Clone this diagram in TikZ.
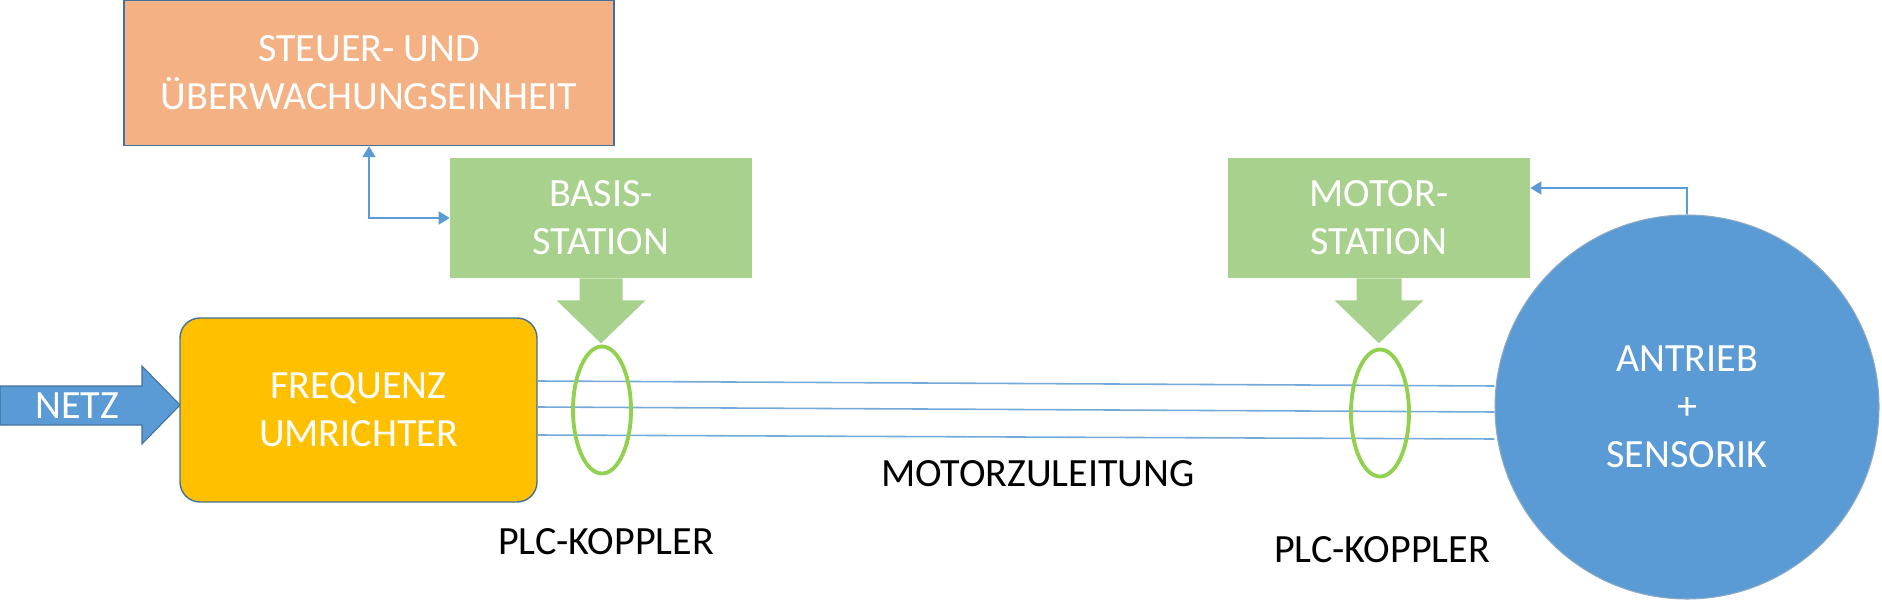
\documentclass[tikz,border=0pt]{standalone}
\usepackage{fontspec}
\setmainfont{Carlito}
\usetikzlibrary{shapes.geometric,arrows.meta,positioning,calc}
\definecolor{ctrlorange}  {HTML}{F4B183}
\definecolor{fuyellow}    {HTML}{FFC000}
\definecolor{stationgreen}{HTML}{A9D18E}
\definecolor{couplergreen}{HTML}{92D050}
\definecolor{driveblue}   {HTML}{5B9BD5}
\definecolor{edgeblue}    {HTML}{41719C}
\newcommand{\boxfont}{\fontsize{22.8}{27.4}\selectfont}

\begin{document}
\begin{tikzpicture}[
  font=\boxfont, >={Triangle[width=0.26cm,length=0.22cm]},
  box/.style    ={rectangle, align=center, text=white, inner sep=0pt},
  ctrl/.style   ={box, fill=ctrlorange, draw=edgeblue, line width=0.8pt,
                  minimum width=9.8cm, minimum height=2.9cm},
  station/.style={box, fill=stationgreen,
                  minimum width=6.04cm, minimum height=2.4cm},
  fu/.style     ={box, fill=fuyellow, draw=edgeblue, line width=0.8pt,
                  rounded corners=0.4cm, minimum width=7.14cm, minimum height=3.68cm},
  coupler/.style={ellipse, draw=couplergreen, line width=2.2pt, inner sep=0pt,
                  minimum width=1.16cm, minimum height=2.54cm},
  drive/.style  ={circle, fill=driveblue, draw=edgeblue!60, line width=0.6pt,
                  minimum size=7.68cm, align=center, text=white, inner sep=0pt},
  conn/.style={draw=driveblue, line width=1.1pt},
  wire/.style={draw=driveblue!85, line width=0.9pt},
]
\useasboundingbox (0,0) rectangle (37.64,-12.10);

%-- control unit and base station
\node[ctrl] (SU) at (7.38,-1.46) {STEUER- UND\\ÜBERWACHUNGSEINHEIT};
\node[station] (BS) at (12.02,-4.36) {BASIS-\\STATION};
\fill[stationgreen] ([xshift=-0.43cm]BS.south) -- ++(0,-0.44) -- ++(-0.46,0)
  -- ++(0.89,-0.86) -- ++(0.89,0.86) -- ++(-0.46,0) -- ++(0,0.44) -- cycle;
\draw[conn, <->] (SU.south) |- (BS.west);

%-- mains and converter
\filldraw[fill=driveblue, draw=edgeblue, line width=0.6pt]
  (0,-7.72) -- (2.84,-7.72) -- (2.84,-7.32) -- (3.60,-8.10)
  -- (2.84,-8.88) -- (2.84,-8.50) -- (0,-8.50) -- cycle;
\node[text=white] (netz) at (1.54,-8.12) {NETZ};
\node[fu] (FU) at (7.17,-8.20) {FREQUENZ\\UMRICHTER};

%-- drive
\node[drive] (M) at (33.74,-8.14) {ANTRIEB\\+\\SENSORIK};

%-- motor cable
\draw[wire] ([yshift=0.58cm]FU.east) -- ([yshift=0.42cm]M.west);
\draw[wire] ([yshift=0.06cm]FU.east) -- ([yshift=-0.10cm]M.west);
\draw[wire] ([yshift=-0.50cm]FU.east) -- ([yshift=-0.64cm]M.west);
\node (cable) at (20.76,-9.48) {MOTORZULEITUNG};

%-- couplers
\node[coupler] (K1) at (12.04,-8.20) {};
\node[coupler] (K2) at (27.60,-8.26) {};
\node (K1lbl) at (12.12,-10.84) {PLC-KOPPLER};
\node (K2lbl) at (27.64,-11.00) {PLC-KOPPLER};

%-- motor station
\node[station] (MS) at (27.58,-4.36) {MOTOR-\\STATION};
\fill[stationgreen] ([xshift=-0.45cm]MS.south) -- ++(0,-0.44) -- ++(-0.44,0)
  -- ++(0.89,-0.86) -- ++(0.89,0.86) -- ++(-0.44,0) -- ++(0,0.44) -- cycle;
\draw[conn, ->] (M.north) |- ([yshift=0.60cm]MS.east);

\end{tikzpicture}
\end{document}
